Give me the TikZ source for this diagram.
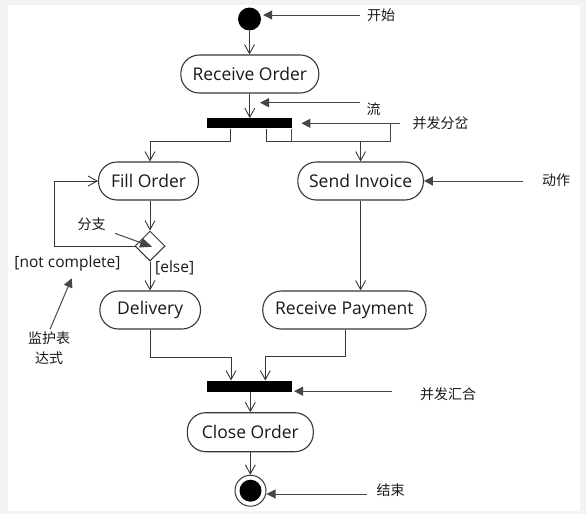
\documentclass[tikz,border=0pt]{standalone}
\usepackage{fontspec}
\setmainfont{Open Sans}
\newfontfamily\cjk{Noto Sans CJK SC}
\usetikzlibrary{arrows.meta,shapes.geometric,calc}
\definecolor{bggray}{RGB}{243,243,243}
\definecolor{ln}{RGB}{55,55,55}
\definecolor{ann}{RGB}{70,70,70}
\begin{document}
\begin{tikzpicture}[x=1pt,y=-1pt,
  act/.style={draw=ln, line width=1.1pt, rounded corners=18.5pt, minimum height=38pt, inner sep=0pt, font=\fontsize{17.5}{20}\selectfont, text=black!90},
  bar/.style={fill=black, draw=none, inner sep=0pt},
  flow/.style={draw=ln, line width=0.9pt, -{Straight Barb[length=9pt,width=10pt,line width=0.9pt]}},
  note/.style={draw=ann, line width=1pt, -{Triangle[length=9pt,width=9pt]}},
  plain/.style={draw=ann, line width=1pt},
  cn/.style={font=\cjk\fontsize{14}{20}\selectfont, inner sep=0pt, text=black!90},
  guard/.style={font=\fontsize{15.5}{18}\selectfont, inner sep=0pt, text=black!90}
]
\fill[bggray] (0,0) rectangle (586,514);
\fill[white] (8,5) rectangle (580,511);
\useasboundingbox (0,0) rectangle (586,514);

% activity nodes
\node[circle, fill=black, minimum size=23pt, inner sep=0pt] (start) at (249.5,19) {};
\node[act, minimum width=138pt] (recv) at (249.8,74) {Receive Order};
\node[bar, minimum width=85pt, minimum height=10pt] (fork) at (249.2,123.3) {};
\node[act, minimum width=100pt] (fill) at (148.5,181) {Fill Order};
\node[act, minimum width=125.6pt] (send) at (360.6,181) {Send Invoice};
\node[diamond, draw=ln, line width=1pt, minimum size=30pt, inner sep=0pt, fill=white] (dec) at (150,246) {};
\node[act, minimum width=100.6pt] (deliv) at (150.2,310) {Delivery};
\node[act, minimum width=163.3pt] (pay) at (344.4,310) {Receive Payment};
\node[bar, minimum width=85.6pt, minimum height=11pt] (join) at (249.5,386.2) {};
\node[act, minimum width=126pt, minimum height=39pt] (close) at (250.3,432.2) {Close Order};
\node[circle, draw=ln, line width=1pt, minimum size=31pt, inner sep=0pt] (end) at (250.5,490.7) {};
\node[circle, fill=black, minimum size=22pt, inner sep=0pt] (endin) at (end.center) {};

% labels
\node[cn] (lstart) at (381,15) {开始};
\node[cn] (lflow) at (373.5,109.3) {流};
\node[cn] (lfork) at (440.5,123.5) {并发分岔};
\node[cn] (lact) at (556,180.5) {动作};
\node[cn] (lbr) at (91.7,224) {分支};
\node[guard] (gnc) at (67.5,263.3) {[not complete]};
\node[guard] (gel) at (174.7,268.3) {[else]};
\node[cn, align=center] (lguard) at (49,348.3) {监护表\\达式};
\node[cn] (ljoin) at (448,394) {并发汇合};
\node[cn] (lend) at (390.5,490) {结束};

% flows
\draw[flow] (start.south) -- (start.south |- recv.north);
\draw[flow] (recv.south) -- (recv.south |- fork.north);
\draw[flow] ([xshift=-18.5pt]fork.south) -- ++(0,13.4) -| ([xshift=1.5pt]fill.north);
\draw[flow] ([xshift=16.8pt]fork.south) -- ++(0,13.4) -| (send.north);
\draw[flow] (dec.north |- fill.south) -- (dec.north);
\draw[flow] (dec.west) -- ++(-80,0) |- (fill.west);
\draw[flow] (dec.south) -- (dec.south |- deliv.north);
\draw[flow] (send.south) -- (send.south |- pay.north);
\draw[flow] (deliv.south) -- ++(0,27.7) -| ([xshift=-18.5pt]join.north);
\draw[flow] ([xshift=1.3pt]pay.south) -- ++(0,27.3) -| ([xshift=15.8pt]join.north);
\draw[flow] (close.north |- join.south) -- (close.north);
\draw[flow] (close.south) -- (close.south |- end.north);

% annotations
\coordinate (a1) at (360,15);
\draw[note] (a1) -- ([xshift=2pt]a1 -| start.east);
\coordinate (a2s) at (360,102.7);
\coordinate (a2e) at (260,102.7);
\draw[note] (a2s) -- (a2e);
\coordinate (a3s) at (400,123.3);
\coordinate (a3b) at (390,123.3);
\draw[note] (a3s) -- ([xshift=9.5pt]fork.east);
\draw[plain] (a3b) |- ($(fork.south east)+(0,13.4)$) -- (fork.south east);
\coordinate (a4s) at (523.3,181);
\draw[note] (a4s) -- (send.east);
\coordinate (a5s) at (115,233.3);
\draw[draw=ann, line width=1pt, -{Triangle[length=12pt,width=10pt]}] (a5s) -- ([xshift=2pt,yshift=-0.8pt]dec.center);
\coordinate (a6s) at (50,329.3);
\coordinate (a6e) at (71.7,278.3);
\draw[note] (a6s) -- (a6e);
\coordinate (a7s) at (391.7,391.2);
\draw[note] (a7s) -- ([xshift=1.5pt]a7s -| join.east);
\coordinate (a8s) at (366.7,494);
\draw[note] (a8s) -- (a8s -| end.east);
\end{tikzpicture}
\end{document}
